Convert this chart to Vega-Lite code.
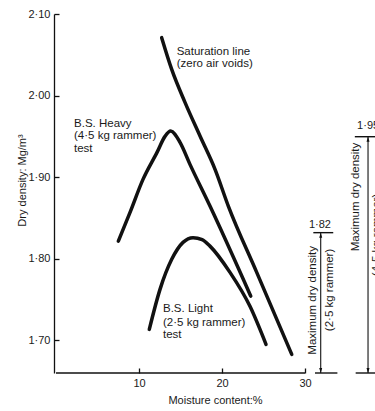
{
  "$schema": "https://vega.github.io/schema/vega-lite/v6.json",
  "width": 319,
  "height": 359,
  "autosize": {"type": "none"},
  "padding": {"left": 56, "top": 14, "right": 0, "bottom": 38},
  "background": "white",
  "config": {
    "view": {"stroke": null},
    "font": "Liberation Sans",
    "axis": {
      "grid": false,
      "domainColor": "#111",
      "domainWidth": 1.3,
      "tickColor": "#111",
      "tickWidth": 1.3,
      "tickSize": -5,
      "labelPadding": 9,
      "labelFont": "Liberation Sans",
      "labelFontSize": 11,
      "labelColor": "#1a1a1a",
      "titleFont": "Liberation Sans",
      "titleFontSize": 11,
      "titleFontWeight": "normal",
      "titleColor": "#1a1a1a"
    }
  },
  "datasets": {
    "curves": [
      {"series": "heavy", "m": 7.51, "d": 1.8217},
      {"series": "heavy", "m": 8.92, "d": 1.8569},
      {"series": "heavy", "m": 10.48, "d": 1.8973},
      {"series": "heavy", "m": 12.17, "d": 1.9304},
      {"series": "heavy", "m": 13.13, "d": 1.95},
      {"series": "heavy", "m": 13.82, "d": 1.9565},
      {"series": "heavy", "m": 14.94, "d": 1.9426},
      {"series": "heavy", "m": 16.14, "d": 1.9157},
      {"series": "heavy", "m": 18.55, "d": 1.8646},
      {"series": "heavy", "m": 23.46, "d": 1.7543},
      {"series": "light", "m": 11.24, "d": 1.7135},
      {"series": "light", "m": 12.53, "d": 1.7625},
      {"series": "light", "m": 13.94, "d": 1.7993},
      {"series": "light", "m": 15.3, "d": 1.8201},
      {"series": "light", "m": 16.51, "d": 1.8259},
      {"series": "light", "m": 17.6, "d": 1.8236},
      {"series": "light", "m": 18.55, "d": 1.8155},
      {"series": "light", "m": 20.96, "d": 1.7833},
      {"series": "light", "m": 23.37, "d": 1.7417},
      {"series": "light", "m": 25.3, "d": 1.6951},
      {"series": "saturation", "m": 12.73, "d": 2.071},
      {"series": "saturation", "m": 13.94, "d": 2.0321},
      {"series": "saturation", "m": 15.54, "d": 1.9917},
      {"series": "saturation", "m": 17.35, "d": 1.9504},
      {"series": "saturation", "m": 19.16, "d": 1.9096},
      {"series": "saturation", "m": 20.76, "d": 1.8646},
      {"series": "saturation", "m": 24.18, "d": 1.7833},
      {"series": "saturation", "m": 28.4, "d": 1.6829}
    ],
    "notes": [
      {"t": "Saturation line", "m": 14.54, "d": 2.0538},
      {"t": "(zero air voids)", "m": 14.54, "d": 2.0387},
      {"t": "B.S. Heavy", "m": 2.17, "d": 1.9652},
      {"t": "(4·5 kg rammer)", "m": 2.17, "d": 1.9499},
      {"t": "test", "m": 2.17, "d": 1.9346},
      {"t": "B.S. Light", "m": 12.89, "d": 1.7381},
      {"t": "(2·5 kg rammer)", "m": 12.89, "d": 1.7217},
      {"t": "test", "m": 12.89, "d": 1.7066}
    ],
    "vnotes": [
      {"t": "Maximum dry density", "m": 30.93, "d": 1.749},
      {"t": "(2·5 kg rammer)", "m": 33.01, "d": 1.7618},
      {"t": "Maximum dry density", "m": 36.14, "d": 1.8757},
      {"t": "(4·5 kg rammer)", "m": 38.67, "d": 1.8292}
    ],
    "vlabels": [
      {"t": "1·82", "m": 31.8, "d": 1.8414},
      {"t": "1·95", "m": 37.6, "d": 1.963}
    ],
    "dims": [
      {"m": 31.89, "d": 1.832, "d2": 1.66},
      {"m": 37.59, "d": 1.9496, "d2": 1.66}
    ],
    "bars": [
      {"m": 0, "m2": 30, "d": 1.66},
      {"m": 31.0, "m2": 33.4, "d": 1.832},
      {"m": 31.2, "m2": 33.9, "d": 1.66},
      {"m": 36.0, "m2": 38.6, "d": 1.9496},
      {"m": 36.1, "m2": 38.6, "d": 1.66}
    ],
    "arrows": [
      {"dir": "up", "m": 31.89, "d": 1.832},
      {"dir": "down", "m": 31.89, "d": 1.66},
      {"dir": "up", "m": 37.59, "d": 1.9496},
      {"dir": "down", "m": 37.59, "d": 1.66}
    ]
  },
  "layer": [
    {
      "data": {"name": "curves"},
      "mark": {"type": "line", "interpolate": "monotone", "strokeWidth": 3.5, "color": "#111", "strokeCap": "round"},
      "encoding": {
        "x": {
          "field": "m", "type": "quantitative",
          "scale": {"domain": [0, 38.43], "nice": false, "zero": false},
          "axis": {"values": [10, 20, 30], "domain": false, "title": "Moisture content:%", "titleX": 159, "titleY": 27, "titleBaseline": "middle"}
        },
        "y": {
          "field": "d", "type": "quantitative",
          "scale": {"domain": [1.66, 2.1], "nice": false, "zero": false},
          "axis": {"values": [1.7, 1.8, 1.9, 2.0, 2.1], "labelExpr": "replace(format(datum.value, '.2f'), '.', '·')", "offset": 2, "title": "Dry density: Mg/m³", "titleX": -32, "titleY": 166, "titleBaseline": "middle"}
        },
        "detail": {"field": "series", "type": "nominal"}
      }
    },
    {
      "data": {"name": "bars"},
      "mark": {"type": "rule", "color": "#111", "strokeWidth": 1.4},
      "encoding": {
        "x": {"field": "m", "type": "quantitative"},
        "x2": {"field": "m2"},
        "y": {"field": "d", "type": "quantitative"}
      }
    },
    {
      "data": {"name": "dims"},
      "mark": {"type": "rule", "color": "#111", "strokeWidth": 1.1},
      "encoding": {
        "x": {"field": "m", "type": "quantitative"},
        "y": {"field": "d", "type": "quantitative"},
        "y2": {"field": "d2"}
      }
    },
    {
      "data": {"name": "arrows"},
      "mark": {"type": "point", "filled": true, "color": "#111", "opacity": 1, "size": 100},
      "encoding": {
        "x": {"field": "m", "type": "quantitative"},
        "y": {"field": "d", "type": "quantitative"},
        "shape": {"field": "dir", "type": "nominal", "scale": {"domain": ["up", "down"], "range": ["M0,0L-0.3,1L0.3,1Z", "M0,0L-0.3,-1L0.3,-1Z"]}, "legend": null}
      }
    },
    {
      "data": {"name": "notes"},
      "mark": {"type": "text", "align": "left", "baseline": "middle", "fontSize": 11.5, "font": "Liberation Sans", "color": "#1a1a1a"},
      "encoding": {
        "x": {"field": "m", "type": "quantitative"},
        "y": {"field": "d", "type": "quantitative"},
        "text": {"field": "t", "type": "nominal"}
      }
    },
    {
      "data": {"name": "vnotes"},
      "mark": {"type": "text", "align": "center", "baseline": "middle", "angle": 270, "fontSize": 11.5, "font": "Liberation Sans", "color": "#1a1a1a"},
      "encoding": {
        "x": {"field": "m", "type": "quantitative"},
        "y": {"field": "d", "type": "quantitative"},
        "text": {"field": "t", "type": "nominal"}
      }
    },
    {
      "data": {"name": "vlabels"},
      "mark": {"type": "text", "align": "center", "baseline": "middle", "fontSize": 11, "font": "Liberation Sans", "color": "#1a1a1a"},
      "encoding": {
        "x": {"field": "m", "type": "quantitative"},
        "y": {"field": "d", "type": "quantitative"},
        "text": {"field": "t", "type": "nominal"}
      }
    }
  ]
}
